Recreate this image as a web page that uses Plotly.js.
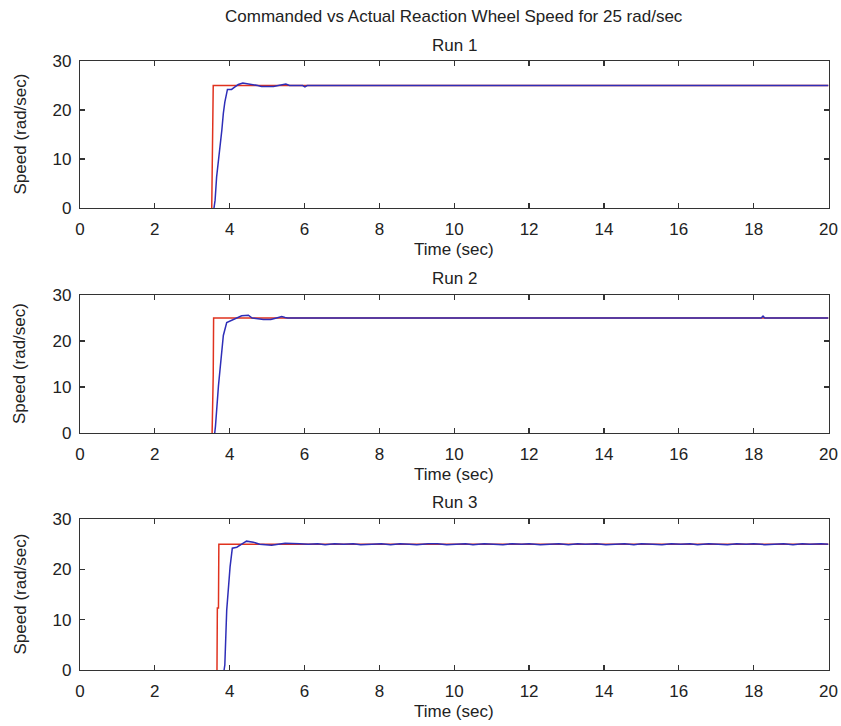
<!DOCTYPE html>
<html>
<head>
<meta charset="utf-8">
<script src="https://cdn.plot.ly/plotly-3.0.1.min.js"></script>
<style>html,body{margin:0;padding:0;background:#fff;}#chart{width:841px;height:726px;}</style>
</head>
<body>
<div id="chart"></div>
<script>
// ---- Data ----
const mainTitle = "Commanded vs Actual Reaction Wheel Speed for 25 rad/sec";
const runTitles = ["Run 1", "Run 2", "Run 3"];
const xAxisTitle = "Time (sec)";
const yAxisTitle = "Speed (rad/sec)";
const xTickVals = [0, 2, 4, 6, 8, 10, 12, 14, 16, 18, 20];
const yTickVals = [0, 10, 20, 30];

// Commanded speed (red), from the step onwards (0 before it)
const cmdTime1 = [3.52, 3.53, 3.55, 3.56, 20];
const cmdSpeed1 = [0, 12.1, 12.1, 25, 25];
const cmdTime2 = [3.53, 3.54, 3.56, 3.57, 20];
const cmdSpeed2 = [0, 12.6, 12.6, 25, 25];
const cmdTime3 = [3.66, 3.67, 3.70, 3.71, 20];
const cmdSpeed3 = [0, 12.3, 12.3, 25, 25];

// Actual speed (blue), from the start of the rise onwards
const actTime1 = [3.58, 3.61, 3.65, 3.70, 3.74, 3.79, 3.83, 3.87, 3.94, 4.05, 4.14, 4.23, 4.35, 4.45, 4.60, 4.75, 4.85, 5.17, 5.30, 5.35, 5.50, 5.60, 5.95, 6.01, 6.07, 20];
const actSpeed1 = [0, 1.6, 6.3, 9.7, 11.8, 15.9, 19.3, 21.6, 24.2, 24.2, 24.7, 25.2, 25.5, 25.4, 25.2, 25.0, 24.8, 24.8, 25.0, 25.1, 25.3, 25.0, 25.0, 24.7, 25.0, 25.0];
const actTime2 = [3.60, 3.62, 3.70, 3.76, 3.83, 3.92, 4.05, 4.20, 4.32, 4.50, 4.60, 4.90, 5.10, 5.25, 5.39, 5.48, 5.55, 18.20, 18.25, 18.30, 20];
const actSpeed2 = [0, 1.5, 10.3, 16.2, 21.2, 24.0, 24.5, 25.0, 25.5, 25.6, 25.0, 24.7, 24.7, 25.0, 25.3, 25.1, 25.0, 25.0, 25.4, 25.0, 25.0];
const actTime3 = [3.85, 3.87, 3.92, 3.96, 4.01, 4.07, 4.19, 4.32, 4.45, 4.63, 4.80, 5.12, 5.25, 5.48, 5.87, 6.10, 6.35, 6.55, 6.80, 7.05, 7.30, 7.50, 7.80, 8.05, 8.30, 8.55, 8.80, 9.00, 9.30, 9.55, 9.80, 10.05, 10.30, 10.50, 10.80, 11.05, 11.30, 11.55, 11.80, 12.00, 12.30, 12.55, 12.80, 13.05, 13.30, 13.50, 13.80, 14.05, 14.30, 14.55, 14.80, 15.00, 15.30, 15.55, 15.80, 16.05, 16.30, 16.50, 16.80, 17.05, 17.30, 17.55, 17.80, 18.00, 18.30, 18.55, 18.80, 19.05, 19.30, 19.50, 19.80, 20];
const actSpeed3 = [0, 1.0, 11.9, 16.6, 20.5, 24.2, 24.4, 25.0, 25.6, 25.4, 25.0, 24.8, 24.9, 25.2, 25.1, 25.0, 25.1, 24.9, 25.1, 25.0, 25.1, 24.9, 25.0, 25.1, 24.9, 25.1, 25.0, 24.9, 25.1, 25.1, 24.9, 25.0, 25.1, 24.9, 25.1, 25.0, 24.9, 25.1, 25.0, 25.1, 24.9, 25.0, 25.1, 24.9, 25.1, 25.0, 25.1, 24.9, 25.0, 25.1, 24.9, 25.1, 25.0, 24.9, 25.1, 25.0, 25.1, 24.9, 25.1, 25.0, 24.9, 25.1, 25.0, 25.1, 24.9, 25.0, 25.1, 24.9, 25.1, 25.0, 25.1, 25.0];

const cmdTimes = [cmdTime1, cmdTime2, cmdTime3];
const cmdSpeeds = [cmdSpeed1, cmdSpeed2, cmdSpeed3];
const actTimes = [actTime1, actTime2, actTime3];
const actSpeeds = [actSpeed1, actSpeed2, actSpeed3];

// ---- Layout geometry (pixels) ----
const W = 841, H = 726;
const plotLeft = 80, plotRight = 828.5;
const plotTops = [61, 295, 519];
const plotBottoms = [208, 433, 670];
const redColor = "#e0321e";
const blueColor = "#2e2eb8";
const axisColor = "#333333";
const fontFamily = "Liberation Sans, Arial, sans-serif";
const fontSize = 17;

const py = p => 1 - p / H;
const px = p => p / W;

const traces = [];
const layout = {
  width: W, height: H,
  margin: {l: 0, r: 0, t: 0, b: 0},
  paper_bgcolor: "#ffffff",
  plot_bgcolor: "#ffffff",
  showlegend: false,
  font: {family: fontFamily, size: fontSize, color: "#222"},
  annotations: []
};

for (let i = 0; i < 3; i++) {
  const sfx = i === 0 ? "" : String(i + 1);
  traces.push({
    x: cmdTimes[i], y: cmdSpeeds[i], type: "scatter", mode: "lines",
    line: {color: redColor, width: 1.5}, xaxis: "x" + sfx, yaxis: "y" + sfx, hoverinfo: "skip"
  });
  traces.push({
    x: actTimes[i], y: actSpeeds[i], type: "scatter", mode: "lines",
    line: {color: blueColor, width: 1.5}, xaxis: "x" + sfx, yaxis: "y" + sfx, hoverinfo: "skip"
  });
  const axCommon = {
    showline: true, linecolor: axisColor, linewidth: 1.2, mirror: "ticks",
    ticks: "inside", ticklen: 5, tickwidth: 1.2, tickcolor: axisColor,
    showgrid: false, zeroline: false, fixedrange: true,
    tickfont: {family: fontFamily, size: fontSize, color: "#222"}
  };
  layout["xaxis" + sfx] = Object.assign({}, axCommon, {
    domain: [px(plotLeft), px(plotRight)], range: [0, 20],
    tickmode: "array", tickvals: xTickVals, anchor: "y" + sfx, ticklabelstandoff: 5
  });
  layout["yaxis" + sfx] = Object.assign({}, axCommon, {
    domain: [py(plotBottoms[i]), py(plotTops[i])], range: [0, 30],
    tickmode: "array", tickvals: yTickVals, anchor: "x" + sfx, ticklabelstandoff: 4
  });
  const cx = px((plotLeft + plotRight) / 2);
  layout.annotations.push({
    text: runTitles[i], xref: "paper", yref: "paper", x: cx, y: py(plotTops[i] - 16),
    showarrow: false, xanchor: "center", yanchor: "middle", font: {size: fontSize}
  });
  layout.annotations.push({
    text: xAxisTitle, xref: "paper", yref: "paper", x: cx, y: py(plotBottoms[i] + 41),
    showarrow: false, xanchor: "center", yanchor: "middle", font: {size: fontSize}
  });
  layout.annotations.push({
    text: yAxisTitle, xref: "paper", yref: "paper", x: px(20),
    y: py((plotTops[i] + plotBottoms[i]) / 2), textangle: -90,
    showarrow: false, xanchor: "center", yanchor: "middle", font: {size: fontSize}
  });
}
layout.annotations.push({
  text: mainTitle, xref: "paper", yref: "paper", x: px((plotLeft + plotRight) / 2), y: py(17),
  showarrow: false, xanchor: "center", yanchor: "middle", font: {size: fontSize}
});

Plotly.newPlot("chart", traces, layout, {staticPlot: true, displayModeBar: false});
</script>
</body>
</html>
